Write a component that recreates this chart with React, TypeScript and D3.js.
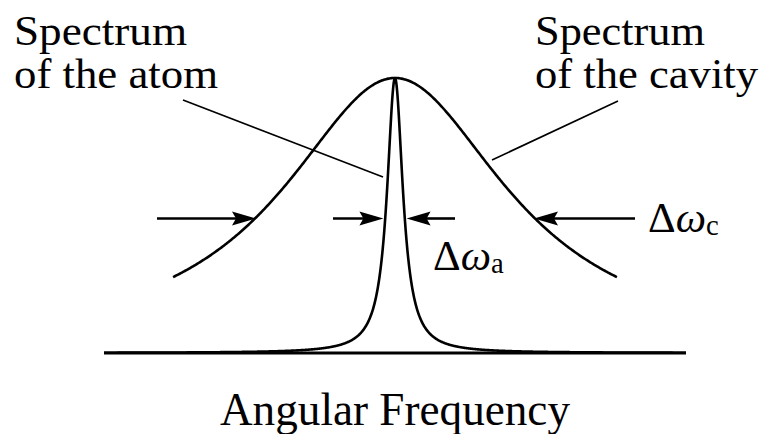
import React from "react";
import * as d3 from "d3";

// Frequency axis in units of the cavity half-linewidth, centred on the resonance.
const baselineSpan = [-2.124, 2.124];
const cavitySpan = [-1.62, 1.62];
const resonance = [0];
const cavityHalfWidth = [1.0];
const atomHalfWidth = [0.07];
const peakHeight = [1.0];

const labelLines = ["Spectrum", "of the atom", "Spectrum", "of the cavity"];
const axisTitle = ["Angular Frequency"];

const W = 768;
const H = 434;

const lorentz = (w: number, w0: number, g: number, a: number) =>
  a / (1 + ((w - w0) / g) ** 2);

// text is set at a base size and scaled up with a transform
const FONT = `"Times New Roman", "Liberation Serif", "FreeSerif", monospace`;
const BASE = 30;

export default function App() {
  const x = d3.scaleLinear().domain(baselineSpan).range([104, 686]);
  const y = d3.scaleLinear().domain([0, peakHeight[0]]).range([353, 78]);

  const w0 = resonance[0];
  const gc = cavityHalfWidth[0];
  const ga = atomHalfWidth[0];
  const A = peakHeight[0];

  const line = d3.line<number>().x((w) => x(w));

  const cavityPts = d3.range(0, 401).map(
    (i) => cavitySpan[0] + ((cavitySpan[1] - cavitySpan[0]) * i) / 400
  );
  const cavityPath = line.y((w) => y(lorentz(w, w0, gc, A)))(cavityPts) || "";

  // dense sampling near the narrow atomic line
  const atomPts = Array.from(
    new Set(
      [
        ...d3.range(0, 201).map((i) => baselineSpan[0] + ((baselineSpan[1] - baselineSpan[0]) * i) / 200),
        ...d3.range(0, 801).map((i) => w0 - 20 * ga + (40 * ga * i) / 800),
      ].filter((v) => v >= baselineSpan[0] && v <= baselineSpan[1])
    )
  ).sort((a, b) => a - b);
  const atomPath = line.y((w) => y(lorentz(w, w0, ga, A)))(atomPts) || "";

  const halfY = y(A / 2) + 3;
  const cavL = x(w0 - gc);
  const cavR = x(w0 + gc);
  const atL = x(w0 - ga);
  const atR = x(w0 + ga);

  const head = (tipX: number, tipY: number, dir: number) => {
    const len = 24;
    const hw = 7;
    return `M${tipX},${tipY} L${tipX - dir * len},${tipY - hw} L${tipX - dir * (len - 4)},${tipY} L${tipX - dir * len},${tipY + hw} Z`;
  };

  const labels = [
    { t: labelLines[0], x: 14, y: 45, s: 42, len: 173 },
    { t: labelLines[1], x: 14, y: 88, s: 42, len: 204 },
    { t: labelLines[2], x: 535, y: 45, s: 42, len: 170 },
    { t: labelLines[3], x: 535, y: 88, s: 42, len: 223 },
    { t: axisTitle[0], x: 220, y: 425, s: 47, len: 350 },
  ];

  const deltas = [
    { sub: "c", x: 648, y: 232 },
    { sub: "a", x: 433, y: 270 },
  ];
  const deltaSize = 43;

  return (
    <svg width={W} height={H} style={{ position: "absolute", left: 0, top: 0 }}>
      <rect width={W} height={H} fill="#fff" />
      {/* baseline */}
      <line x1={x(baselineSpan[0])} x2={x(baselineSpan[1])} y1={y(0)} y2={y(0)} stroke="#000" strokeWidth={3} />
      {/* spectra */}
      <path d={cavityPath} fill="none" stroke="#000" strokeWidth={2.6} />
      <path d={atomPath} fill="none" stroke="#000" strokeWidth={2.6} strokeLinejoin="round" />

      {/* leader lines */}
      <line x1={183} y1={100} x2={383} y2={177} stroke="#000" strokeWidth={1.6} />
      <line x1={618} y1={101} x2={492} y2={160} stroke="#000" strokeWidth={1.6} />

      {/* cavity linewidth arrows */}
      <line x1={157} x2={cavL - 20} y1={halfY} y2={halfY} stroke="#000" strokeWidth={2.6} />
      <path d={head(cavL - 2, halfY, 1)} fill="#000" />
      <line x1={635} x2={cavR + 20} y1={halfY} y2={halfY} stroke="#000" strokeWidth={2.6} />
      <path d={head(cavR + 2, halfY, -1)} fill="#000" />

      {/* atom linewidth arrows */}
      <line x1={333} x2={atL - 20} y1={halfY} y2={halfY} stroke="#000" strokeWidth={2.6} />
      <path d={head(atL - 2, halfY, 1)} fill="#000" />
      <line x1={455} x2={atR + 20} y1={halfY} y2={halfY} stroke="#000" strokeWidth={2.6} />
      <path d={head(atR + 2, halfY, -1)} fill="#000" />

      {labels.map((l) => {
        const k = l.s / BASE;
        return (
          <g key={l.t + l.x} transform={`translate(${l.x},${l.y}) scale(${k})`}>
            <text
              x={0}
              y={0}
              textLength={l.len / k}
              lengthAdjust="spacingAndGlyphs"
              style={{ fontFamily: FONT, fontSize: BASE }}
            >
              {l.t}
            </text>
          </g>
        );
      })}

      {deltas.map((d) => {
        const k = deltaSize / BASE;
        return (
          <g key={d.sub} transform={`translate(${d.x},${d.y}) scale(${k})`}>
            <text x={0} y={0} style={{ fontFamily: FONT, fontSize: BASE }}>
              Δ<tspan fontStyle="italic">ω</tspan>
              <tspan style={{ fontSize: 20 }} dy={2}>{d.sub}</tspan>
            </text>
          </g>
        );
      })}
    </svg>
  );
}
